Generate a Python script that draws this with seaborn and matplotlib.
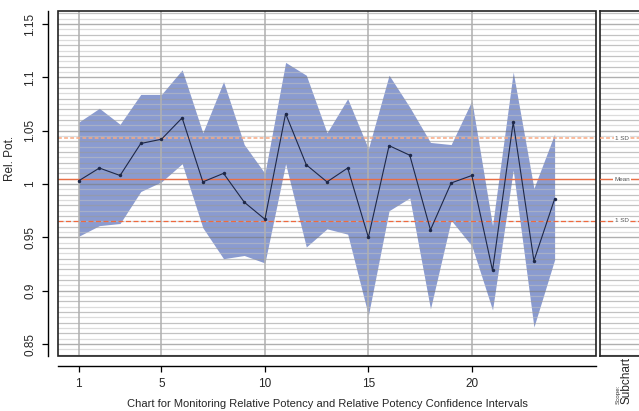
import numpy as np
import pandas as pd
import seaborn as sns
import matplotlib.pyplot as plt
from matplotlib.patches import Rectangle

# values
batch = list(range(1, 25))
rel_pot = [1.003, 1.015, 1.008, 1.038, 1.042, 1.062, 1.002, 1.010, 0.983, 0.967, 1.066, 1.018,
           1.002, 1.015, 0.950, 1.036, 1.027, 0.957, 1.001, 1.008, 0.919, 1.058, 0.928, 0.986]
ci_upper = [1.058, 1.071, 1.056, 1.084, 1.084, 1.107, 1.048, 1.096, 1.037, 1.010, 1.114, 1.102,
            1.048, 1.080, 1.033, 1.102, 1.072, 1.039, 1.037, 1.078, 0.961, 1.105, 0.996, 1.047]
ci_lower = [0.951, 0.961, 0.963, 0.993, 1.002, 1.019, 0.959, 0.930, 0.933, 0.926, 1.019, 0.941,
            0.958, 0.953, 0.877, 0.975, 0.987, 0.883, 0.966, 0.942, 0.882, 1.013, 0.866, 0.929]
mean_val = 1.0044
sd_val = 0.0387
x_ticks = [1, 5, 10, 15, 20]
y_ticks = [0.85, 0.9, 0.95, 1.0, 1.05, 1.1, 1.15]
y_labels = ["0.85", "0.9", "0.95", "1", "1.05", "1.1", "1.15"]

df = pd.DataFrame({"batch": batch, "rel_pot": rel_pot, "lo": ci_lower, "hi": ci_upper})

sns.set_style("white")
plt.rcParams['font.family'] = ['Liberation Sans', 'DejaVu Sans']

W, H = 639, 411
fig = plt.figure(figsize=(W / 100, H / 100), dpi=100)
ax = fig.add_axes([58 / W, 55 / H, 538 / W, 345 / H])
ylim = (0.8388, 1.1622)


def draw_hgrid(a):
    ys = np.round(np.arange(0.84, 1.165, 0.005), 3)
    for yv in ys:
        k = int(round(yv * 1000))
        if k % 50 == 0:
            a.axhline(yv, color='#7a7a7a', lw=1.0, alpha=0.6, zorder=2)
        elif (k // 5) % 2 == 0:
            a.axhline(yv, color='#9a9a9a', lw=0.9, alpha=0.6, zorder=2)
        else:
            a.axhline(yv, color='#c0c0c0', lw=0.9, alpha=0.55, zorder=2)


def draw_reflines(a):
    a.axhline(mean_val, color='#ea6f45', lw=1.0, zorder=3)
    a.axhline(mean_val + sd_val, color='#f9a982', lw=1.1, ls=(0, (2.5, 1.5)), zorder=3)
    a.axhline(mean_val - sd_val, color='#ee6a3e', lw=0.9, ls=(0, (4, 2)), zorder=3)


# axes spines first (set_position resets the ticks)
for side in ['top', 'right']:
    ax.spines[side].set_visible(False)
ax.spines['left'].set_position(('outward', 7))
ax.spines['bottom'].set_position(('outward', 7))
for side in ['left', 'bottom']:
    ax.spines[side].set_color('black')
    ax.spines[side].set_linewidth(1.0)

# confidence band
ax.fill_between(df["batch"], df["lo"], df["hi"], color='#8a9bd0', lw=0, zorder=1)
draw_hgrid(ax)
for xv in x_ticks:
    ax.axvline(xv, color='#b0b0b0', lw=1.4, alpha=0.8, zorder=2)
draw_reflines(ax)

sns.lineplot(data=df, x="batch", y="rel_pot", ax=ax, color='#1e2848', lw=0.8,
             marker='o', markersize=2.5, markeredgewidth=0, zorder=4)

ax.set_xlim(0, 26)
ax.set_ylim(*ylim)
ax.set_xticks(x_ticks)
ax.set_xticklabels([str(v) for v in x_ticks], fontsize=8.5)
ax.set_yticks(y_ticks)
ax.set_yticklabels(y_labels, fontsize=8.5, rotation=90, va='center')
ax.set_xlabel("")
ax.set_ylabel("")
ax.tick_params(axis='both', which='major', direction='out', length=4.5, width=0.9,
               color='black', pad=4, left=True, bottom=True)
ax.add_patch(Rectangle((0, 0), 1, 1, transform=ax.transAxes, fill=False,
                       ec='#222222', lw=1.2, clip_on=False, zorder=6))

fig.text(10 / W, 1 - 158 / H, "Rel. Pot.", rotation=90, ha='center', va='center', fontsize=8.5)
fig.text(327 / W, 1 - 404 / H, "Chart for Monitoring Relative Potency and Relative Potency Confidence Intervals",
         ha='center', va='center', fontsize=8)

# subchart panel on the right
sub = fig.add_axes([600 / W, 55 / H, 60 / W, 345 / H])
sub.set_xlim(0, 1)
sub.set_ylim(*ylim)
draw_hgrid(sub)
draw_reflines(sub)
for yv, lab in [(mean_val + sd_val, "1 SD"), (mean_val, "Mean"), (mean_val - sd_val, "1 SD")]:
    sub.text(22 / 60, yv, lab, fontsize=4.5, color='#555555', ha='center', va='center', zorder=5,
             bbox=dict(boxstyle='square,pad=0.15', fc='white', ec='none'))
sub.set_xticks([])
sub.set_yticks([])
for side in ['top', 'right', 'left', 'bottom']:
    sub.spines[side].set_color('#222222')
    sub.spines[side].set_linewidth(1.2)

fig.text(618 / W, 1 - 404 / H, "Scope:", rotation=90, ha='center', va='bottom', fontsize=4.5, color='#333333')
fig.text(627 / W, 1 - 404 / H, "Subchart", rotation=90, ha='center', va='bottom', fontsize=8.5)

fig.savefig("out.png", dpi=100)
